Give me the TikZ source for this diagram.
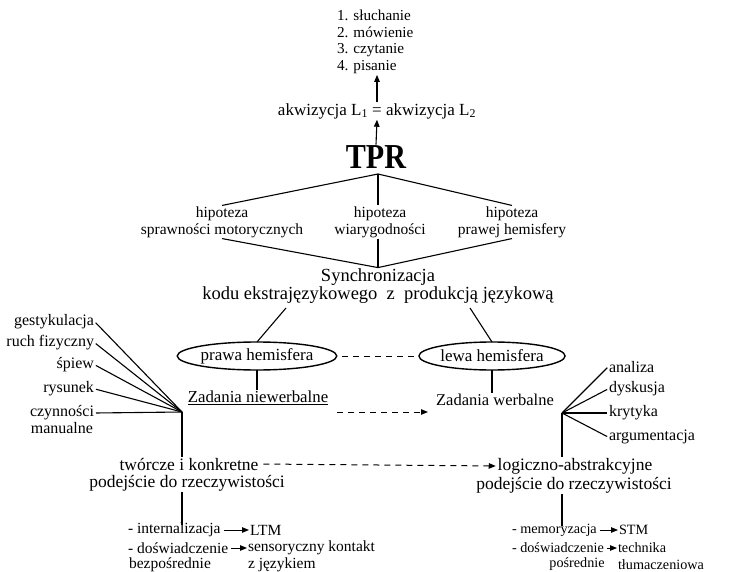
\documentclass[tikz,border=0pt]{standalone}
\usepackage{graphicx}
\usepackage{fontspec}
\setmainfont{Liberation Serif}
\usetikzlibrary{shapes.geometric,arrows.meta}
\begin{document}
\begin{tikzpicture}[x=1pt,y=-1pt,
  every node/.style={inner sep=1pt, outer sep=0pt},
  tlist/.style={font=\fontsize{15.2}{16.7}\selectfont},
  thyp/.style={font=\fontsize{15.5}{17}\selectfont, align=center},
  tfan/.style={font=\fontsize{16}{16}\selectfont},
  tmid/.style={font=\fontsize{17.5}{17.5}\selectfont},
  tbot/.style={font=\fontsize{15.5}{15.5}\selectfont, inner sep=0pt},
  tbotr/.style={font=\fontsize{14.2}{14.2}\selectfont, inner sep=0pt},
  tsync/.style={font=\fontsize{18.5}{18}\selectfont, align=center},
  hemi/.style={ellipse, draw, line width=1.4pt, minimum width=145pt, minimum height=28pt, inner sep=0pt, font=\fontsize{17}{17}\selectfont},
  ln/.style={line width=1.1pt},
  dsh/.style={line width=1pt, dash pattern=on 6pt off 5pt},
  arr/.style={-{Triangle[length=7pt,width=5.5pt]}},
]
\useasboundingbox (0,0) rectangle (739,572);

% top
\node[tlist, align=left, anchor=north west] (list) at (336,9) {1. słuchanie\\2. mówienie\\3. czytanie\\4. pisanie};
\node[font=\fontsize{17}{17}\selectfont] (akw) at (377,111) {akwizycja L\textsubscript{1} = akwizycja L\textsubscript{2}};
\node[font=\fontsize{35}{35}\selectfont\bfseries] (tpr) at (376,157) {\scalebox{0.86}[1]{TPR}};
\draw[ln,arr] (tpr.north) -- (akw.south);
\draw[ln,arr] (akw.north) -- (akw.north |- list.south);

% hypotheses
\coordinate (ta) at (378,174);
\node[thyp] (h1) at (222,222) {hipoteza\\sprawności motorycznych};
\node[thyp] (h2) at (380,222) {hipoteza\\wiarygodności};
\node[thyp] (h3) at (512,222) {hipoteza\\prawej hemisfery};
\draw[ln] (ta) -- (h1.north);
\draw[ln] (ta) -- (ta |- h2.north);
\draw[ln] (ta) -- (h3.north);

\node[tsync] (sync) at (378,286) {Synchronizacja\\kodu ekstrajęzykowego\ \ z\ \ produkcją językową};
\draw[ln] (h1.south) -- (sync.north);
\draw[ln] (sync.north |- h2.south) -- (sync.north);
\draw[ln] (h3.south) -- (sync.north);

% hemispheres
\coordinate (sl) at (286,308);
\coordinate (sr) at (470,308);
\node[hemi] (pr) at (257,356) {prawa hemisfera};
\node[hemi] (lw) at (492,356) {lewa hemisfera};
\draw[ln] (sl) -- (pr.north);
\draw[ln] (sr) -- (lw.north);
\draw[dsh, shorten <=5pt, shorten >=5pt] (pr.east) -- (lw.west);

\node[font=\fontsize{16.8}{17}\selectfont] (zn) at (258,398) {\underline{Zadania niewerbalne}};
\node[font=\fontsize{16.5}{17}\selectfont] (zw) at (495,400) {Zadania werbalne};
\draw[ln] (pr.south) -- (pr.south |- zn.north);
\draw[ln] (lw.south) -- (lw.south |- zw.north);
\coordinate (da) at (337,412);
\coordinate (db) at (428,412);
\draw[dsh,arr] (da) -- (db);

% left fan
\coordinate (la) at (182,412);
\node[tfan, anchor=east] (g1) at (95,322) {gestykulacja};
\node[tfan, anchor=east] (g2) at (95,343) {ruch fizyczny};
\node[tfan, anchor=east] (g3) at (95,365) {śpiew};
\node[tfan, anchor=east] (g4) at (95,389) {rysunek};
\node[tfan, anchor=east] (g5) at (95,413) {czynności};
\node[tfan, anchor=east] (g6) at (94,428) {manualne};
\foreach \n in {g1,g2,g3,g4,g5} \draw[ln, shorten <=1pt] (\n.east) -- (la);

% right fan
\coordinate (ra) at (562,413);
\node[tfan, anchor=west] (r1) at (608,367) {analiza};
\node[tfan, anchor=west] (r2) at (608,389) {dyskusja};
\node[tfan, anchor=west] (r3) at (608,413) {krytyka};
\node[tfan, anchor=west] (r4) at (608,437) {argumentacja};
\foreach \n in {r1,r2,r3,r4} \draw[ln, shorten >=1pt] (ra) -- (\n.west);

% approaches
\node[tmid] (tw) at (189,464) {twórcze i konkretne};
\node[tmid] (pdL) at (187,483) {podejście do rzeczywistości};
\node[tmid] (lo) at (575,466) {logiczno-abstrakcyjne};
\node[tmid] (pdR) at (574,485) {podejście do rzeczywistości};
\draw[ln] (la) -- (la |- tw.north);
\draw[ln] (ra) -- (ra |- lo.north);
\draw[dsh,arr, shorten <=4pt, shorten >=1pt] (tw.east) -- (lo.west);

% bottom left
\node[tbot, anchor=west] (int) at (128,530) {- internalizacja};
\node[tbot, anchor=west] (ltm) at (250,530) {LTM};
\node[tbot, anchor=west] (dl) at (128,548) {- doświadczenie};
\node[tbot] (bz) at (170,564.5) {bezpośrednie};
\node[tbot, anchor=west] (sk) at (248,548) {sensoryczny kontakt};
\node[tbot, anchor=west] (zj) at (248,564.5) {z językiem};
\draw[ln] (pdL.south -| la) -- ([yshift=-2pt]int.north -| la);
\draw[line width=0.9pt, arr, shorten <=3pt, shorten >=1pt] (int.east) -- (int.east -| ltm.west);
\draw[line width=0.9pt, arr, shorten <=3pt, shorten >=1pt] (dl.east) -- (dl.east -| sk.west);

% bottom right
\node[tbotr, anchor=west] (mem) at (512,530) {- memoryzacja};
\node[tbotr, anchor=west] (stm) at (619,530) {STM};
\node[tbotr, anchor=west] (dr) at (512,548) {- doświadczenie};
\node[tbotr] (po) at (577,564.5) {pośrednie};
\node[tbotr, anchor=west] (te) at (618,548) {technika};
\node[tbotr, anchor=west] (tl) at (618,564.5) {tłumaczeniowa};
\draw[ln] (pdR.south -| ra) -- ([yshift=-2pt]mem.north -| ra);
\draw[line width=0.9pt, arr, shorten <=3pt, shorten >=1pt] (mem.east) -- (mem.east -| stm.west);
\draw[line width=0.9pt, arr, shorten <=3pt, shorten >=1pt] (dr.east) -- (dr.east -| te.west);
\end{tikzpicture}
\end{document}
